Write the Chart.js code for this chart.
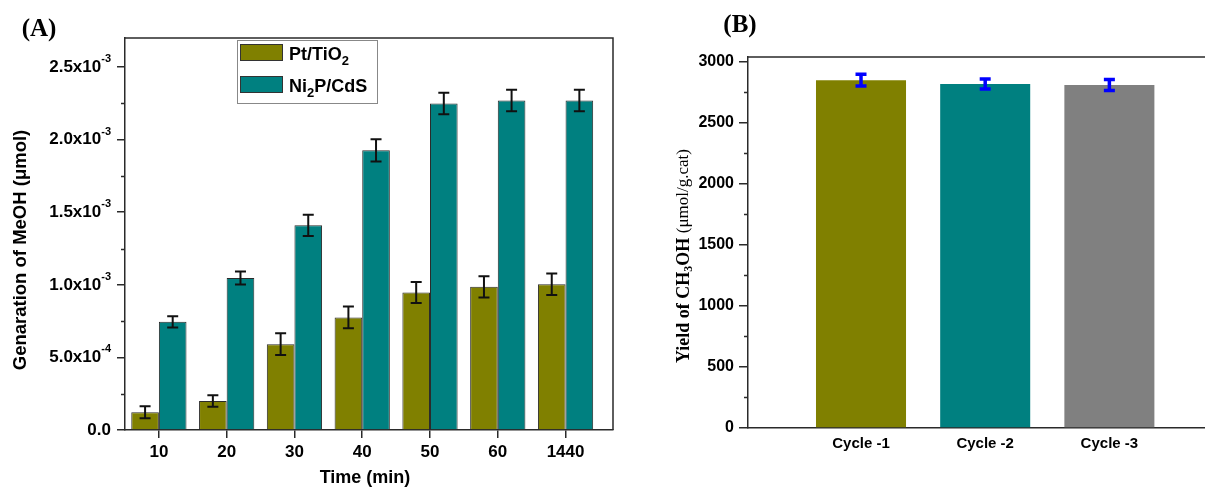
<!DOCTYPE html>
<html>
<head>
<meta charset="utf-8">
<script src="https://cdn.jsdelivr.net/npm/chart.js@4.4.1/dist/chart.umd.min.js"></script>
<style>
  html, body { margin: 0; padding: 0; background: #fff; }
  #wrap { position: relative; width: 1205px; height: 487px; overflow: hidden; }
  #chartA { position: absolute; left: 0; top: 0; }
  #chartB { position: absolute; left: 640px; top: 0; }
</style>
</head>
<body>
<div id="wrap">
  <canvas id="chartA" width="640" height="487"></canvas>
  <canvas id="chartB" width="565" height="487"></canvas>
</div>
<script>
// ---- panel A data ----
const times = ['10', '20', '30', '40', '50', '60', '1440'];
const ptTiO2 = [1.22e-4, 2.0e-4, 5.91e-4, 7.75e-4, 9.47e-4, 9.86e-4, 1.004e-3];
const ptTiO2Err = [0.41e-4, 0.39e-4, 0.75e-4, 0.75e-4, 0.73e-4, 0.73e-4, 0.74e-4];
const ni2pCdS = [7.45e-4, 1.047e-3, 1.41e-3, 1.926e-3, 2.249e-3, 2.27e-3, 2.27e-3];
const ni2pCdSErr = [0.39e-4, 0.44e-4, 0.73e-4, 0.76e-4, 0.74e-4, 0.74e-4, 0.74e-4];
const yTicksA = [0, 5e-4, 1e-3, 1.5e-3, 2e-3, 2.5e-3];
const yTickMantA = ['0.0', '5.0x10', '1.0x10', '1.5x10', '2.0x10', '2.5x10'];
const yTickExpA = ['', '-4', '-3', '-3', '-3', '-3'];

// ---- panel B data ----
const cycles = ['Cycle -1', 'Cycle -2', 'Cycle -3'];
const yieldCH3OH = [2845, 2815, 2805];
const yieldErr = [48, 41, 45];
const yTicksB = [0, 500, 1000, 1500, 2000, 2500, 3000];

const SANS = 'Arial, "Liberation Sans", sans-serif';
const SERIF = '"Times New Roman", "Liberation Serif", serif';
const AXIS = '#2a2a2a';

// draw a run of text pieces (for sub/superscripts), anchored left
function drawRuns(ctx, runs, x, y) {
    let cx = x;
    runs.forEach(r => {
        ctx.font = r.font;
        ctx.fillText(r.t, cx, y + (r.dy || 0));
        cx += ctx.measureText(r.t).width;
    });
}
function runsWidth(ctx, runs) {
    let w = 0;
    runs.forEach(r => { ctx.font = r.font; w += ctx.measureText(r.t).width; });
    return w;
}

// error bars on top of the bars
function errorBars(errSets, color, width, cap) {
    return {
        id: 'errorBars',
        afterDatasetsDraw(chart) {
            const ctx = chart.ctx, ys = chart.scales.y;
            ctx.save();
            ctx.strokeStyle = color;
            ctx.lineWidth = width;
            errSets.forEach((errs, di) => {
                chart.getDatasetMeta(di).data.forEach((bar, i) => {
                    const v = chart.data.datasets[di].data[i].y;
                    const top = ys.getPixelForValue(v + errs[i]);
                    const bot = ys.getPixelForValue(v - errs[i]);
                    ctx.beginPath();
                    ctx.moveTo(bar.x, top); ctx.lineTo(bar.x, bot);
                    ctx.moveTo(bar.x - cap / 2, top); ctx.lineTo(bar.x + cap / 2, top);
                    ctx.moveTo(bar.x - cap / 2, bot); ctx.lineTo(bar.x + cap / 2, bot);
                    ctx.stroke();
                });
            });
            ctx.restore();
        }
    };
}

// half-step minor ticks on the y axis + frame lines
function frameAndMinor(step, drawRight) {
    return {
        id: 'frameAndMinor',
        afterDraw(chart) {
            const ctx = chart.ctx, a = chart.chartArea, ys = chart.scales.y;
            ctx.save();
            ctx.strokeStyle = AXIS;
            ctx.lineWidth = 1.5;
            ctx.beginPath();
            for (let v = step / 2; v < ys.max; v += step) {
                const py = Math.round(ys.getPixelForValue(v)) + 0.5;
                ctx.moveTo(a.left - 4, py); ctx.lineTo(a.left, py);
            }
            ctx.moveTo(a.left, a.top); ctx.lineTo(a.right, a.top);
            if (drawRight) ctx.lineTo(a.right, a.bottom);
            ctx.stroke();
            ctx.restore();
        }
    };
}

const annotA = {
    id: 'annotA',
    afterDraw(chart) {
        const ctx = chart.ctx, ys = chart.scales.y;
        ctx.save();
        ctx.fillStyle = '#000';
        // y tick labels with exponents
        ctx.textBaseline = 'middle';
        yTicksA.forEach((v, i) => {
            const py = ys.getPixelForValue(v);
            const runs = [{ t: yTickMantA[i], font: 'bold 17px ' + SANS }];
            if (yTickExpA[i]) runs.push({ t: yTickExpA[i], font: 'bold 11px ' + SANS, dy: -8 });
            drawRuns(ctx, runs, 111 - runsWidth(ctx, runs), py);
        });
        // panel label
        ctx.textAlign = 'center';
        ctx.font = 'bold 25px ' + SERIF;
        ctx.fillText('(A)', 39, 30);
        // axis titles
        ctx.font = 'bold 18px ' + SANS;
        ctx.fillText('Time (min)', 365, 478);
        ctx.save();
        ctx.translate(21, 250);
        ctx.rotate(-Math.PI / 2);
        ctx.font = 'bold 18.5px ' + SANS;
        ctx.fillText('Genaration of MeOH (\u03bcmol)', 0, 0);
        ctx.restore();
        // legend
        ctx.textAlign = 'left';
        ctx.textBaseline = 'alphabetic';
        ctx.strokeStyle = '#888';
        ctx.lineWidth = 1;
        ctx.strokeRect(237.5, 40.5, 140, 63);
        const entries = [
            { color: '#808000', y: 44, runs: [{ t: 'Pt/TiO', font: 'bold 18px ' + SANS }, { t: '2', font: 'bold 13px ' + SANS, dy: 5 }] },
            { color: '#008080', y: 76, runs: [{ t: 'Ni', font: 'bold 18px ' + SANS }, { t: '2', font: 'bold 13px ' + SANS, dy: 5 }, { t: 'P/CdS', font: 'bold 18px ' + SANS }] }
        ];
        entries.forEach(e => {
            ctx.fillStyle = e.color;
            ctx.fillRect(240, e.y, 43, 17);
            ctx.strokeStyle = '#333';
            ctx.strokeRect(240.5, e.y + 0.5, 42, 16);
            ctx.fillStyle = '#000';
            drawRuns(ctx, e.runs, 289, e.y + 16);
        });
        ctx.restore();
    }
};

const annotB = {
    id: 'annotB',
    afterDraw(chart) {
        const ctx = chart.ctx;
        ctx.save();
        ctx.fillStyle = '#000';
        ctx.textAlign = 'center';
        ctx.textBaseline = 'middle';
        ctx.font = 'bold 25px ' + SERIF;
        ctx.fillText('(B)', 100, 26);
        // rotated y title with subscript
        const runs = [
            { t: 'Yield of CH', font: 'bold 18px ' + SERIF },
            { t: '3', font: 'bold 12px ' + SERIF, dy: 5 },
            { t: 'OH ', font: 'bold 18px ' + SERIF },
            { t: '(\u03bcmol/g.cat)', font: '17px ' + SERIF }
        ];
        ctx.translate(44, 256);
        ctx.rotate(-Math.PI / 2);
        ctx.textAlign = 'left';
        ctx.textBaseline = 'middle';
        drawRuns(ctx, runs, -runsWidth(ctx, runs) / 2, 0);
        ctx.restore();
    }
};

new Chart(document.getElementById('chartA'), {
    type: 'bar',
    data: {
        datasets: [
            {
                label: 'Pt/TiO2',
                data: ptTiO2.map((v, i) => ({ x: i, y: v })),
                backgroundColor: '#808000',
                borderColor: '#2b2b2b',
                borderWidth: 1
            },
            {
                label: 'Ni2P/CdS',
                data: ni2pCdS.map((v, i) => ({ x: i, y: v })),
                backgroundColor: '#008080',
                borderColor: '#2b2b2b',
                borderWidth: 1
            }
        ]
    },
    options: {
        responsive: false,
        animation: false,
        events: [],
        categoryPercentage: 0.815,
        barPercentage: 1,
        layout: { padding: { left: 0, right: 27, top: 38, bottom: 0 } },
        plugins: { legend: { display: false }, tooltip: { enabled: false } },
        scales: {
            x: {
                type: 'linear',
                offset: false,
                min: -0.5,
                max: 6.7,
                afterBuildTicks: s => { s.ticks = times.map((t, i) => ({ value: i })); },
                afterFit: s => { s.height = 57; },
                border: { display: true, color: AXIS, width: 1.5 },
                grid: { offset: false, drawOnChartArea: false, drawTicks: true, tickLength: 8, color: AXIS, lineWidth: 1.5 },
                ticks: {
                    autoSkip: false,
                    maxRotation: 0,
                    padding: 4,
                    color: '#000',
                    font: { family: SANS, size: 17, weight: 'bold' },
                    callback: (v, i) => times[i]
                }
            },
            y: {
                min: 0,
                max: 2.7e-3,
                afterBuildTicks: s => { s.ticks = yTicksA.map(v => ({ value: v })); },
                afterFit: s => { s.width = 125; },
                border: { display: true, color: AXIS, width: 1.5 },
                grid: { drawOnChartArea: false, drawTicks: true, tickLength: 8, color: AXIS, lineWidth: 1.5 },
                ticks: { display: false }
            }
        }
    },
    plugins: [errorBars([ptTiO2Err, ni2pCdSErr], '#111', 2, 11), frameAndMinor(5e-4, true), annotA]
});

new Chart(document.getElementById('chartB'), {
    type: 'bar',
    data: {
        datasets: [{
            label: 'Yield',
            data: yieldCH3OH.map((v, i) => ({ x: i + 1, y: v })),
            backgroundColor: ['#808000', '#008080', '#808080'],
            borderWidth: 0
        }]
    },
    options: {
        responsive: false,
        animation: false,
        events: [],
        categoryPercentage: 0.725,
        barPercentage: 1,
        layout: { padding: { left: 0, right: 0, top: 57, bottom: 0 } },
        plugins: { legend: { display: false }, tooltip: { enabled: false } },
        scales: {
            x: {
                type: 'linear',
                offset: false,
                min: 0.09,
                max: 3.77,
                afterBuildTicks: s => { s.ticks = cycles.map((c, i) => ({ value: i + 1 })); },
                afterFit: s => { s.height = 59; },
                border: { display: true, color: AXIS, width: 1.5 },
                grid: { display: false, drawTicks: false },
                ticks: {
                    autoSkip: false,
                    maxRotation: 0,
                    padding: 7,
                    color: '#000',
                    font: { family: SANS, size: 15, weight: 'bold' },
                    callback: (v, i) => cycles[i]
                }
            },
            y: {
                min: 0,
                max: 3035,
                afterBuildTicks: s => { s.ticks = yTicksB.map(v => ({ value: v })); },
                afterFit: s => { s.width = 108; },
                border: { display: true, color: AXIS, width: 1.5 },
                grid: { drawOnChartArea: false, drawTicks: true, tickLength: 9, color: AXIS, lineWidth: 1.5 },
                ticks: {
                    padding: 5,
                    color: '#000',
                    font: { family: SANS, size: 16, weight: 'bold' },
                    callback: v => String(v)
                }
            }
        }
    },
    plugins: [errorBars([yieldErr], '#0000ff', 3.5, 11), frameAndMinor(500, false), annotB]
});
</script>
</body>
</html>
